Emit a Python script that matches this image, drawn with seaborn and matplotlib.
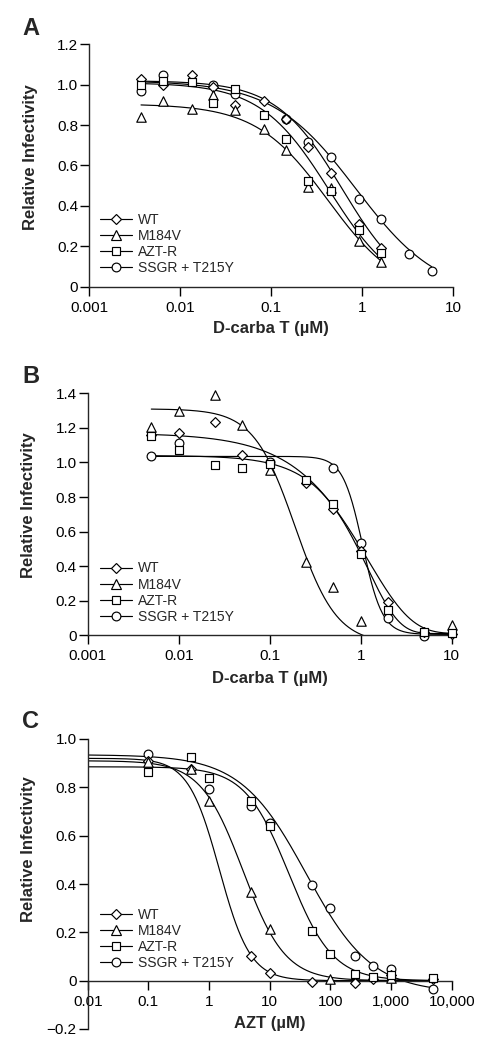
import matplotlib
matplotlib.use("Agg")
import matplotlib.pyplot as plt
import numpy as np
import pandas as pd
import seaborn as sns
from matplotlib.lines import Line2D
from matplotlib.ticker import NullLocator

sns.set_style("ticks")
plt.rcParams["font.family"] = ["Liberation Sans", "DejaVu Sans"]

strains = ["WT", "M184V", "AZT-R", "SSGR + T215Y"]
strain_markers = ["D", "^", "s", "o"]
strain_msize = [5.0, 6.8, 5.3, 6.3]
draw_order = ["SSGR + T215Y", "WT", "M184V", "AZT-R"]

# ---- Panel A: D-carba T ----
a_conc = [0.0037, 0.0064, 0.0133, 0.023, 0.040, 0.083, 0.145, 0.25, 0.45, 0.92, 1.6]
a_wt = [1.03, 1.00, 1.05, 0.99, 0.90, 0.92, 0.83, 0.69, 0.565, 0.31, 0.19]
a_m184v = [0.84, 0.92, 0.88, 0.95, 0.875, 0.78, 0.675, 0.495, 0.49, 0.225, 0.12]
a_aztr = [1.00, 1.02, 1.015, 0.91, 0.98, 0.85, 0.73, 0.525, 0.475, 0.28, 0.165]
a_ssgr_conc = [0.0037, 0.0064, 0.023, 0.040, 0.145, 0.25, 0.45, 0.92, 1.6, 3.3, 5.8]
a_ssgr = [0.97, 1.05, 1.00, 0.955, 0.83, 0.715, 0.64, 0.435, 0.335, 0.16, 0.08]

# ---- Panel B: D-carba T ----
b_conc = [0.005, 0.01, 0.025, 0.05, 0.1, 0.25, 0.5, 1, 2, 5, 10]
b_wt_conc = [0.005, 0.01, 0.025, 0.05, 0.25, 0.5, 1, 2, 5, 10]
b_wt = [1.16, 1.17, 1.235, 1.045, 0.88, 0.73, 0.49, 0.195, 0.02, 0.01]
b_m184v_conc = [0.005, 0.01, 0.025, 0.05, 0.1, 0.25, 0.5, 1, 10]
b_m184v = [1.205, 1.30, 1.39, 1.215, 0.955, 0.425, 0.28, 0.08, 0.06]
b_aztr = [1.155, 1.07, 0.985, 0.965, 0.99, 0.90, 0.758, 0.47, 0.146, 0.021, 0.015]
b_ssgr_conc = [0.005, 0.01, 0.1, 0.5, 1, 2, 5]
b_ssgr = [1.037, 1.11, 1.0, 0.966, 0.536, 0.098, -0.005]

# ---- Panel C: AZT ----
c_conc = [0.1, 0.5, 1, 5, 10, 50, 100, 250, 500, 1000, 5000]
c_wt_conc = [0.1, 0.5, 5, 10, 50, 250, 500, 1000, 5000]
c_wt = [0.91, 0.875, 0.102, 0.03, -0.007, -0.011, 0.005, 0.023, 0.005]
c_m184v_conc = [0.1, 0.5, 1, 5, 10, 100, 1000]
c_m184v = [0.905, 0.875, 0.745, 0.368, 0.215, 0.005, 0.01]
c_aztr = [0.862, 0.925, 0.84, 0.745, 0.64, 0.205, 0.11, 0.026, 0.014, 0.023, 0.012]
c_ssgr_conc = [0.1, 1, 5, 10, 50, 100, 250, 500, 1000, 5000]
c_ssgr = [0.938, 0.792, 0.724, 0.651, 0.396, 0.30, 0.102, 0.062, 0.047, -0.034]

# fitted dose-response parameters (WT, M184V, AZT-R, SSGR + T215Y)
a_model = ["logistic", "logistic", "logistic", "logistic"]
a_top = [1.02, 0.905, 1.01, 1.02]
a_bottom = [-0.05, -0.05, -0.05, -0.05]
a_mid = [0.6, 0.42, 0.43, 0.85]
a_slope = [1.2, 1.1, 1.15, 0.95]
a_range = [(0.0037, 1.6), (0.0037, 1.6), (0.0037, 1.6), (0.0037, 5.8)]

b_model = ["weibull", "logistic", "weibull", "logistic"]
b_top = [1.17, 1.31, 1.04, 1.035]
b_bottom = [0.01, -0.05, 0.01, 0.005]
b_mid = [1.2, 0.19, 1.19, 1.05]
b_slope = [0.9, 1.9, 1.25, 4.0]
b_range = [(0.005, 10)] * 4

c_model = ["logistic", "logistic", "logistic", "logistic"]
c_top = [0.92, 0.91, 0.885, 0.935]
c_bottom = [0.0, 0.0, 0.0, -0.05]
c_mid = [1.48, 3.63, 20.7, 40.0]
c_slope = [1.7, 1.25, 1.2, 0.8]
c_range = [(0.01, 5000)] * 4


def response(x, model, top, bottom, mid, slope):
    if model == "weibull":
        return bottom + (top - bottom) * np.exp(-(x / mid) ** slope)
    return bottom + (top - bottom) / (1 + (x / mid) ** slope)


def points_frame(series):
    rows = []
    for strain, (conc, vals) in zip(strains, series):
        for c, v in zip(conc, vals):
            rows.append({"conc": c, "inf": v, "strain": strain})
    return pd.DataFrame(rows)


def curve_frame(model, top, bottom, mid, slope, ranges):
    rows = []
    for i, strain in enumerate(strains):
        xs = np.geomspace(ranges[i][0], ranges[i][1], 400)
        ys = response(xs, model[i], top[i], bottom[i], mid[i], slope[i])
        rows.append(pd.DataFrame({"conc": xs, "inf": ys, "strain": strain}))
    return pd.concat(rows, ignore_index=True)


panels = [
    {
        "letter": "A",
        "rect": [89.3, 44.3, 453.3, 286.7],
        "points": points_frame([(a_conc, a_wt), (a_conc, a_m184v), (a_conc, a_aztr), (a_ssgr_conc, a_ssgr)]),
        "curves": curve_frame(a_model, a_top, a_bottom, a_mid, a_slope, a_range),
        "xlim": (0.001, 10),
        "xticks": [0.001, 0.01, 0.1, 1, 10],
        "xticklabels": ["0.001", "0.01", "0.1", "1", "10"],
        "ylim": (0, 1.2),
        "yticks": [0, 0.2, 0.4, 0.6, 0.8, 1.0, 1.2],
        "yticklabels": ["0", "0.2", "0.4", "0.6", "0.8", "1.0", "1.2"],
        "xlabel": "D-carba T (\u00b5M)",
        "xlabel_y": -0.1415,
        "ylabel_xy": (-0.141, 0.536),
        "legend_xy": (0.029, 0.047),
        "letter_y": 35,
    },
    {
        "letter": "B",
        "rect": [87.7, 393.3, 451.7, 635.3],
        "points": points_frame([(b_wt_conc, b_wt), (b_m184v_conc, b_m184v), (b_conc, b_aztr), (b_ssgr_conc, b_ssgr)]),
        "curves": curve_frame(b_model, b_top, b_bottom, b_mid, b_slope, b_range),
        "xlim": (0.001, 10),
        "xticks": [0.001, 0.01, 0.1, 1, 10],
        "xticklabels": ["0.001", "0.01", "0.1", "1", "10"],
        "ylim": (0, 1.4),
        "yticks": [0, 0.2, 0.4, 0.6, 0.8, 1.0, 1.2, 1.4],
        "yticklabels": ["0", "0.2", "0.4", "0.6", "0.8", "1.0", "1.2", "1.4"],
        "xlabel": "D-carba T (\u00b5M)",
        "xlabel_y": -0.1475,
        "ylabel_xy": (-0.142, 0.538),
        "legend_xy": (0.034, 0.048),
        "letter_y": 383,
    },
    {
        "letter": "C",
        "rect": [87.7, 739.0, 451.7, 1029.0],
        "points": points_frame([(c_wt_conc, c_wt), (c_m184v_conc, c_m184v), (c_conc, c_aztr), (c_ssgr_conc, c_ssgr)]),
        "curves": curve_frame(c_model, c_top, c_bottom, c_mid, c_slope, c_range),
        "xlim": (0.01, 10000),
        "xticks": [0.01, 0.1, 1, 10, 100, 1000, 10000],
        "xticklabels": ["0.01", "0.1", "1", "10", "100", "1,000", "10,000"],
        "ylim": (-0.2, 1.0),
        "yticks": [-0.2, 0, 0.2, 0.4, 0.6, 0.8, 1.0],
        "yticklabels": ["\u22120.2", "0", "0.2", "0.4", "0.6", "0.8", "1.0"],
        "xlabel": "AZT (\u00b5M)",
        "xlabel_y": 0.045,
        "ylabel_xy": (-0.142, 0.621),
        "legend_xy": (0.034, 0.203),
        "letter_y": 728.3,
    },
]

W, H = 489, 1050
fig = plt.figure(figsize=(W / 100, H / 100), dpi=100)

for p in panels:
    x0, y0, x1, y1 = p["rect"]
    ax = fig.add_axes([x0 / W, 1 - y1 / H, (x1 - x0) / W, (y1 - y0) / H])
    ax.set_xscale("log")

    sns.lineplot(data=p["curves"], x="conc", y="inf", units="strain", estimator=None,
                 color="black", linewidth=0.85, legend=False, ax=ax)

    for strain in draw_order:
        i = strains.index(strain)
        sub = p["points"][p["points"]["strain"] == strain]
        sns.scatterplot(data=sub, x="conc", y="inf", marker=strain_markers[i],
                        s=strain_msize[i] ** 2, color="white", edgecolor="black",
                        linewidth=0.85, zorder=3, clip_on=False, legend=False, ax=ax)

    ax.set_xlim(*p["xlim"])
    ax.set_ylim(*p["ylim"])
    ax.set_xticks(p["xticks"])
    ax.set_xticklabels(p["xticklabels"])
    ax.xaxis.set_minor_locator(NullLocator())
    ax.set_yticks(p["yticks"])
    ax.set_yticklabels(p["yticklabels"])

    sns.despine(ax=ax)
    for side in ["left", "bottom"]:
        ax.spines[side].set_linewidth(1.0)
    if p["ylim"][0] < 0:
        ax.spines["bottom"].set_position(("data", 0))

    ax.tick_params(axis="both", direction="out", length=6.5, width=1.0, labelsize=11,
                   colors="black")
    ax.tick_params(axis="x", pad=3.5)
    ax.tick_params(axis="y", pad=1.5)

    ax.set_xlabel(p["xlabel"], fontsize=12, fontweight="bold")
    ax.xaxis.set_label_coords(0.5, p["xlabel_y"])
    ax.set_ylabel("Relative Infectivity", fontsize=12, fontweight="bold")
    ax.yaxis.set_label_coords(*p["ylabel_xy"])

    handles = [
        Line2D([], [], color="black", linewidth=0.85, marker=m, markersize=s,
               markerfacecolor="white", markeredgecolor="black", markeredgewidth=0.85)
        for m, s in zip(strain_markers, strain_msize)
    ]
    ax.legend(handles, strains, loc="lower left", bbox_to_anchor=p["legend_xy"],
              frameon=False, fontsize=10, handlelength=2.3, handletextpad=0.45,
              labelspacing=0.15, borderpad=0, borderaxespad=0)

    fig.text(22 / W, 1 - p["letter_y"] / H, p["letter"], fontsize=17, fontweight="bold",
             ha="left", va="baseline")

fig.savefig("out.png", dpi=100)
